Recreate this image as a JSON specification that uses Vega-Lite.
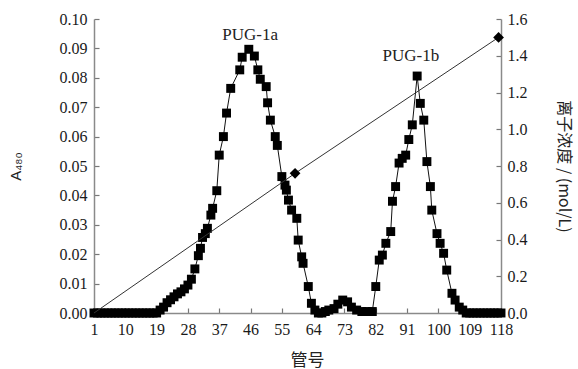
{
  "$schema": "https://vega.github.io/schema/vega-lite/v6.json",
  "autosize": "none",
  "width": 407,
  "height": 294,
  "padding": {"left": 94, "top": 19, "right": 77, "bottom": 56},
  "background": "white",
  "config": {
    "view": {"stroke": null},
    "axis": {
      "labelFont": "Liberation Serif",
      "labelFontSize": 16,
      "labelColor": "#1a1a1a",
      "labelOverlap": false,
      "labelBound": false,
      "labelFlush": false,
      "domainColor": "#8a8a8a",
      "domainWidth": 1.5,
      "tickColor": "#777",
      "tickWidth": 1.2,
      "tickSize": -5,
      "tickCount": 30,
      "grid": false,
      "titleFontWeight": "normal",
      "titleColor": "#222"
    }
  },
  "datasets": {
    "absorb": [
      {"tube": 1, "A": 0}, {"tube": 2, "A": 0}, {"tube": 3, "A": 0}, {"tube": 4, "A": 0}, {"tube": 5, "A": 0},
      {"tube": 6, "A": 0}, {"tube": 7, "A": 0}, {"tube": 8, "A": 0}, {"tube": 9, "A": 0}, {"tube": 10, "A": 0},
      {"tube": 11, "A": 0}, {"tube": 12, "A": 0}, {"tube": 13, "A": 0}, {"tube": 14, "A": 0}, {"tube": 15, "A": 0},
      {"tube": 16, "A": 0}, {"tube": 17, "A": 0}, {"tube": 18, "A": 0}, {"tube": 19, "A": 0},
      {"tube": 20, "A": 0.001}, {"tube": 21, "A": 0.002}, {"tube": 22, "A": 0.0035}, {"tube": 23, "A": 0.0045},
      {"tube": 24, "A": 0.0055}, {"tube": 25, "A": 0.0065}, {"tube": 26, "A": 0.0072}, {"tube": 27, "A": 0.0082},
      {"tube": 28, "A": 0.0095}, {"tube": 29, "A": 0.0115}, {"tube": 30, "A": 0.015}, {"tube": 31, "A": 0.0195},
      {"tube": 31.6, "A": 0.022}, {"tube": 32.2, "A": 0.0257}, {"tube": 33, "A": 0.027}, {"tube": 33.6, "A": 0.0288},
      {"tube": 34.6, "A": 0.0333}, {"tube": 35.1, "A": 0.0356}, {"tube": 36.3, "A": 0.0416}, {"tube": 37, "A": 0.0537},
      {"tube": 38.2, "A": 0.06}, {"tube": 39.1, "A": 0.068}, {"tube": 40.3, "A": 0.0764}, {"tube": 42.9, "A": 0.0827},
      {"tube": 43.6, "A": 0.087}, {"tube": 45.5, "A": 0.0897}, {"tube": 47.1, "A": 0.0874}, {"tube": 48.1, "A": 0.0827},
      {"tube": 48.8, "A": 0.0795}, {"tube": 50.5, "A": 0.077}, {"tube": 50.9, "A": 0.0715}, {"tube": 51.7, "A": 0.0656},
      {"tube": 53.1, "A": 0.06}, {"tube": 53.7, "A": 0.057}, {"tube": 55, "A": 0.0464}, {"tube": 55.9, "A": 0.0435},
      {"tube": 56.3, "A": 0.0418}, {"tube": 56.9, "A": 0.0384}, {"tube": 57.8, "A": 0.035}, {"tube": 59.3, "A": 0.0322},
      {"tube": 59.7, "A": 0.0248}, {"tube": 60.7, "A": 0.0191}, {"tube": 61.1, "A": 0.0169}, {"tube": 62.6, "A": 0.009},
      {"tube": 63.5, "A": 0.0033}, {"tube": 64.5, "A": 0.001}, {"tube": 65.5, "A": 0}, {"tube": 66.5, "A": 0},
      {"tube": 67.5, "A": 0.0005}, {"tube": 68.5, "A": 0.001}, {"tube": 70, "A": 0.0015}, {"tube": 71.1, "A": 0.003},
      {"tube": 72.5, "A": 0.0044}, {"tube": 73.9, "A": 0.0038}, {"tube": 75, "A": 0.002}, {"tube": 76.5, "A": 0.001},
      {"tube": 78, "A": 0.0005}, {"tube": 79.5, "A": 0.0005}, {"tube": 81, "A": 0.0005}, {"tube": 82, "A": 0.009},
      {"tube": 83, "A": 0.018}, {"tube": 83.9, "A": 0.0197}, {"tube": 84.9, "A": 0.0237}, {"tube": 86.3, "A": 0.0277},
      {"tube": 86.8, "A": 0.038}, {"tube": 87.7, "A": 0.043}, {"tube": 88.7, "A": 0.051}, {"tube": 89.6, "A": 0.0526},
      {"tube": 90.6, "A": 0.0537}, {"tube": 91.5, "A": 0.059}, {"tube": 92.5, "A": 0.064}, {"tube": 93.9, "A": 0.0806},
      {"tube": 94.8, "A": 0.0713}, {"tube": 95.8, "A": 0.0656}, {"tube": 96.7, "A": 0.0515}, {"tube": 97.7, "A": 0.043},
      {"tube": 98.1, "A": 0.035}, {"tube": 99.6, "A": 0.027}, {"tube": 100.5, "A": 0.0237}, {"tube": 101.5, "A": 0.0203},
      {"tube": 102.4, "A": 0.0146}, {"tube": 103.9, "A": 0.0067}, {"tube": 104.8, "A": 0.0044}, {"tube": 106, "A": 0.002},
      {"tube": 107, "A": 0.001}, {"tube": 108, "A": 0}, {"tube": 109, "A": 0}, {"tube": 110, "A": 0}, {"tube": 111, "A": 0},
      {"tube": 112, "A": 0}, {"tube": 113, "A": 0}, {"tube": 114, "A": 0}, {"tube": 115, "A": 0}, {"tube": 116, "A": 0},
      {"tube": 117, "A": 0}, {"tube": 118, "A": 0}
    ],
    "gradient": [
      {"tube": 1, "conc": 0},
      {"tube": 58.8, "conc": 0.76},
      {"tube": 117.3, "conc": 1.5}
    ],
    "labels": [
      {"tube": 45.9, "A": 0.0945, "text": "PUG-1a"},
      {"tube": 92.1, "A": 0.0874, "text": "PUG-1b"}
    ]
  },
  "layer": [
    {
      "layer": [
        {
          "data": {"name": "absorb"},
          "mark": {"type": "line", "color": "#111", "strokeWidth": 1},
          "encoding": {
            "x": {"field": "tube", "type": "quantitative", "scale": {"domain": [1, 118], "nice": false, "zero": false},
              "axis": {"values": [1, 10, 19, 28, 37, 46, 55, 64, 73, 82, 91, 100, 109, 118], "tickCount": 30, "title": "管号",
                "titleFont": "Noto Sans CJK SC", "titleFontSize": 17, "titleX": 213, "titlePadding": 15, "labelPadding": 13}},
            "y": {"field": "A", "type": "quantitative", "scale": {"domain": [0, 0.1], "nice": false},
              "axis": {"values": [0, 0.01, 0.02, 0.03, 0.04, 0.05, 0.06, 0.07, 0.08, 0.09, 0.1], "tickCount": 30, "format": ".2f", "title": "A₄₈₀",
                "titleFont": "Liberation Sans", "titleFontSize": 15, "titlePadding": 36, "labelPadding": 12, "labelFontSize": 16}}
          }
        },
        {
          "data": {"name": "absorb"},
          "mark": {"type": "point", "shape": "square", "filled": true, "color": "#000", "size": 80, "opacity": 1},
          "encoding": {
            "x": {"field": "tube", "type": "quantitative"},
            "y": {"field": "A", "type": "quantitative"}
          }
        },
        {
          "data": {"name": "labels"},
          "mark": {"type": "text", "font": "Liberation Serif", "fontSize": 17, "color": "#222", "baseline": "middle", "align": "center"},
          "encoding": {
            "x": {"field": "tube", "type": "quantitative"},
            "y": {"field": "A", "type": "quantitative"},
            "text": {"field": "text"}
          }
        }
      ]
    },
    {
      "layer": [
        {
          "data": {"name": "gradient"},
          "mark": {"type": "line", "color": "#333", "strokeWidth": 1},
          "encoding": {
            "x": {"field": "tube", "type": "quantitative"},
            "y": {"field": "conc", "type": "quantitative", "scale": {"domain": [0, 1.6], "nice": false},
              "axis": {"orient": "right", "values": [0, 0.2, 0.4, 0.6, 0.8, 1.0, 1.2, 1.4, 1.6], "tickCount": 30, "format": ".1f", "title": "离子浓度 / (mol/L)",
                "titleFont": "Noto Sans CJK SC", "titleFontSize": 16, "titleAngle": 90, "titlePadding": 28, "labelPadding": 11}}
          }
        },
        {
          "data": {"name": "gradient"},
          "transform": [{"filter": "datum.tube > 2"}],
          "mark": {"type": "point", "shape": "diamond", "filled": true, "color": "#000", "size": 115, "opacity": 1},
          "encoding": {
            "x": {"field": "tube", "type": "quantitative"},
            "y": {"field": "conc", "type": "quantitative"}
          }
        }
      ]
    }
  ],
  "resolve": {"scale": {"y": "independent"}}
}
